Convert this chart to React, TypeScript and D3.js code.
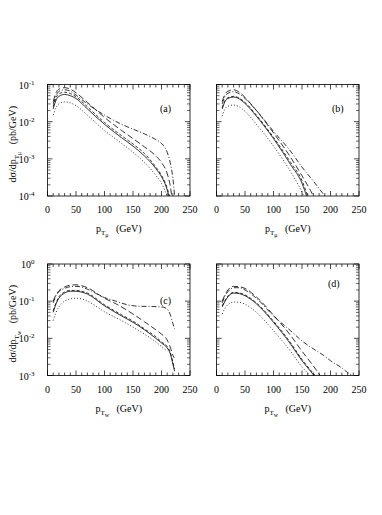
import React from "react";
import * as d3 from "d3";

type Pt = [number, number];

// ---- Data ----
const xTicks = [0, 50, 100, 150, 200, 250];

// Panel (a): p_T mu, domain 1e-4..1e-1
const aLongDash: Pt[] = [[10,0.035],[15,0.06],[20,0.075],[30,0.082],[40,0.075],[50,0.06],[70,0.033],[100,0.013],[130,0.0058],[150,0.0035],[170,0.0021],[190,0.0012],[200,0.0008],[210,0.0004],[215,0.0002],[218,0.0001]];
const aDashDot: Pt[] = [[10,0.03],[15,0.05],[20,0.065],[30,0.072],[40,0.066],[50,0.052],[70,0.03],[100,0.015],[130,0.0085],[150,0.0063],[170,0.0047],[190,0.0033],[200,0.0026],[210,0.0015],[216,0.0007],[220,0.0003],[223,0.0001]];
const aSolid: Pt[] = [[10,0.022],[15,0.038],[20,0.048],[30,0.054],[40,0.05],[50,0.042],[70,0.022],[100,0.0085],[130,0.0037],[150,0.0022],[170,0.0012],[190,0.00055],[200,0.00033],[208,0.00018],[213,0.0001]];
const aShortDash: Pt[] = [[10,0.025],[15,0.044],[20,0.056],[30,0.062],[40,0.057],[50,0.047],[70,0.025],[100,0.0095],[130,0.0042],[150,0.0025],[170,0.0014],[190,0.0006],[200,0.00036],[208,0.0002],[214,0.0001]];
const aDotted: Pt[] = [[10,0.015],[15,0.024],[20,0.03],[30,0.034],[40,0.032],[50,0.027],[70,0.015],[100,0.0058],[130,0.0026],[150,0.0015],[170,0.0008],[190,0.00036],[200,0.00022],[210,0.0001]];

// Panel (b)
const bLongDash: Pt[] = [[10,0.035],[15,0.055],[20,0.066],[30,0.072],[40,0.062],[50,0.045],[70,0.02],[100,0.005],[130,0.0011],[150,0.00035],[165,0.00014],[170,0.0001]];
const bDashDot: Pt[] = [[10,0.03],[15,0.048],[20,0.058],[30,0.064],[40,0.056],[50,0.042],[70,0.02],[100,0.0055],[130,0.0016],[150,0.0006],[170,0.00025],[190,0.0001]];
const bSolid: Pt[] = [[10,0.022],[15,0.035],[20,0.042],[30,0.046],[40,0.041],[50,0.031],[70,0.014],[100,0.0035],[130,0.0007],[150,0.00022],[158,0.0001]];
const bShortDash: Pt[] = [[10,0.024],[15,0.037],[20,0.044],[30,0.048],[40,0.043],[50,0.033],[70,0.015],[100,0.0038],[130,0.0008],[150,0.00026],[160,0.0001]];
const bDotted: Pt[] = [[10,0.014],[15,0.022],[20,0.026],[30,0.028],[40,0.025],[50,0.019],[70,0.0085],[100,0.0022],[130,0.00045],[145,0.00018],[153,0.0001]];

// Panel (c): p_T W, domain 1e-3..1
const cLongDash: Pt[] = [[10,0.1],[15,0.15],[20,0.19],[30,0.24],[40,0.27],[50,0.275],[60,0.26],[70,0.23],[100,0.12],[120,0.085],[150,0.045],[170,0.028],[190,0.017],[200,0.013],[210,0.009],[215,0.006],[220,0.0035],[222,0.003]];
const cDashDot: Pt[] = [[10,0.09],[15,0.14],[20,0.18],[30,0.22],[40,0.245],[50,0.25],[60,0.24],[70,0.21],[100,0.125],[120,0.1],[140,0.08],[160,0.073],[180,0.072],[200,0.07],[210,0.062],[215,0.045],[220,0.025],[223,0.018]];
const cSolid: Pt[] = [[10,0.05],[15,0.085],[20,0.12],[30,0.165],[40,0.185],[50,0.185],[60,0.175],[70,0.155],[100,0.075],[130,0.04],[150,0.027],[170,0.017],[190,0.01],[200,0.0075],[210,0.0055],[215,0.004],[220,0.002],[223,0.0013]];
const cShortDash: Pt[] = [[10,0.055],[15,0.09],[20,0.13],[30,0.175],[40,0.195],[50,0.195],[60,0.185],[70,0.165],[100,0.08],[130,0.043],[150,0.029],[170,0.018],[190,0.011],[200,0.008],[210,0.006],[215,0.0044],[220,0.0023],[223,0.0015]];
const cDotted: Pt[] = [[10,0.03],[15,0.05],[20,0.07],[30,0.1],[40,0.115],[50,0.12],[60,0.115],[70,0.1],[100,0.052],[130,0.03],[150,0.02],[170,0.013],[190,0.008],[200,0.006],[210,0.0045]];

// Panel (d)
const dLongDash: Pt[] = [[10,0.1],[15,0.15],[20,0.2],[30,0.25],[40,0.245],[50,0.22],[70,0.13],[100,0.042],[130,0.012],[150,0.0045],[170,0.0018],[182,0.001]];
const dDashDot: Pt[] = [[10,0.09],[15,0.14],[20,0.18],[30,0.23],[40,0.23],[50,0.2],[70,0.12],[100,0.04],[130,0.016],[150,0.0085],[170,0.0052],[190,0.0033],[200,0.0025],[210,0.002],[220,0.0016],[230,0.0012],[238,0.001]];
const dSolid: Pt[] = [[10,0.07],[15,0.1],[20,0.13],[30,0.165],[40,0.16],[50,0.14],[70,0.085],[100,0.027],[130,0.007],[150,0.0025],[165,0.0013],[171,0.001]];
const dShortDash: Pt[] = [[10,0.075],[15,0.105],[20,0.137],[30,0.172],[40,0.167],[50,0.147],[70,0.09],[100,0.029],[130,0.0076],[150,0.0027],[165,0.0014],[173,0.001]];
const dDotted: Pt[] = [[10,0.045],[15,0.065],[20,0.08],[30,0.095],[40,0.093],[50,0.083],[70,0.05],[100,0.016],[130,0.0045],[150,0.0017],[164,0.001]];

const panelLabels = ["(a)", "(b)", "(c)", "(d)"];

const styles = [
  { dash: "6,3" },      // long dash
  { dash: "5,2,1,2" },  // dash-dot
  { dash: "" },         // solid
  { dash: "3,2" },      // short dash
  { dash: "1,2" },      // dotted
];

const panels = [
  { left: 47.5, top: 84.5, yMin: 1e-4, yMax: 1e-1, series: [aLongDash, aDashDot, aSolid, aShortDash, aDotted], label: panelLabels[0], lx: 160, ly: 112, sub: "μ", showY: true },
  { left: 216.5, top: 84.5, yMin: 1e-4, yMax: 1e-1, series: [bLongDash, bDashDot, bSolid, bShortDash, bDotted], label: panelLabels[1], lx: 332, ly: 112, sub: "μ", showY: false },
  { left: 47.5, top: 264, yMin: 1e-3, yMax: 1, series: [cLongDash, cDashDot, cSolid, cShortDash, cDotted], label: panelLabels[2], lx: 160, ly: 304, sub: "w", showY: true },
  { left: 216.5, top: 264, yMin: 1e-3, yMax: 1, series: [dLongDash, dDashDot, dSolid, dShortDash, dDotted], label: panelLabels[3], lx: 328, ly: 287, sub: "w", showY: false },
];

const W = 142.5;
const H = 111.5;
const FONT = "'Liberation Serif', 'DejaVu Serif', serif";

function Panel({ p, idx }: { p: typeof panels[number]; idx: number }) {
  const x = d3.scaleLinear().domain([0, 250]).range([p.left, p.left + W]);
  const y = d3.scaleLog().domain([p.yMin, p.yMax]).range([p.top + H, p.top]);
  const line = d3
    .line<Pt>()
    .x((d) => x(d[0]))
    .y((d) => y(d[1]))
    .curve(d3.curveMonotoneX);

  const minorX = d3.range(0, 251, 10);
  const decades: number[] = [];
  const e0 = Math.round(Math.log10(p.yMin));
  const e1 = Math.round(Math.log10(p.yMax));
  for (let e = e0; e <= e1; e++) decades.push(e);
  const minorY: number[] = [];
  for (let e = e0; e < e1; e++) for (let m = 2; m <= 9; m++) minorY.push(m * Math.pow(10, e));

  const bottom = p.top + H;
  const right = p.left + W;
  const clipId = `clip${idx}`;
  const cx = p.left + W / 2;

  return (
    <g>
      <defs>
        <clipPath id={clipId}>
          <rect x={p.left} y={p.top} width={W} height={H} />
        </clipPath>
      </defs>
      {/* curves */}
      <g clipPath={`url(#${clipId})`}>
        {p.series.map((s, i) => (
          <path key={i} d={line(s) || ""} fill="none" stroke="#000" strokeWidth={0.8} strokeDasharray={styles[i].dash} />
        ))}
      </g>
      {/* frame */}
      <rect x={p.left} y={p.top} width={W} height={H} fill="none" stroke="#000" strokeWidth={0.8} />
      {/* x ticks */}
      {minorX.map((v) => {
        const major = v % 50 === 0;
        const len = major ? 5 : 3;
        return (
          <g key={"x" + v}>
            <line x1={x(v)} x2={x(v)} y1={bottom} y2={bottom - len} stroke="#000" strokeWidth={0.7} />
            <line x1={x(v)} x2={x(v)} y1={p.top} y2={p.top + len} stroke="#000" strokeWidth={0.7} />
          </g>
        );
      })}
      {/* y ticks */}
      {decades.map((e) => (
        <g key={"yd" + e}>
          <line x1={p.left} x2={p.left + 5} y1={y(Math.pow(10, e))} y2={y(Math.pow(10, e))} stroke="#000" strokeWidth={0.7} />
          <line x1={right} x2={right - 5} y1={y(Math.pow(10, e))} y2={y(Math.pow(10, e))} stroke="#000" strokeWidth={0.7} />
        </g>
      ))}
      {minorY.map((v, i) => (
        <g key={"ym" + i}>
          <line x1={p.left} x2={p.left + 3} y1={y(v)} y2={y(v)} stroke="#000" strokeWidth={0.6} />
          <line x1={right} x2={right - 3} y1={y(v)} y2={y(v)} stroke="#000" strokeWidth={0.6} />
        </g>
      ))}
      {/* x tick labels */}
      {xTicks.map((v) => (
        <text key={"xl" + v} x={x(v)} y={bottom + 17} textAnchor="middle" fontFamily={FONT} fontSize={10}>
          {v}
        </text>
      ))}
      {/* y tick labels */}
      {p.showY &&
        decades.map((e) => (
          <text key={"yl" + e} x={p.left - 13} y={y(Math.pow(10, e)) + 4} textAnchor="end" fontFamily={FONT} fontSize={10}>
            10
            <tspan fontSize={7} dy={-4}>{e}</tspan>
          </text>
        ))}
      {/* x title */}
      <text x={cx} y={bottom + 36} textAnchor="middle" fontFamily={FONT} fontSize={10}>
        p
        <tspan fontSize={7} dy={3}>T</tspan>
        <tspan fontSize={6} dy={2}>{p.sub}</tspan>
        <tspan dy={-5} fontSize={10}>{"\u00a0\u00a0\u00a0(GeV)"}</tspan>
      </text>
      {/* y title */}
      {p.showY && (
        <text transform={`translate(16,${p.top + H / 2 + 4}) rotate(-90)`} textAnchor="middle" fontFamily={FONT} fontSize={10}>
          dσ/dp
          <tspan fontSize={7} dy={3}>T</tspan>
          <tspan fontSize={6} dy={2}>{p.sub}</tspan>
          <tspan dy={-5} fontSize={10}>{"\u00a0\u00a0\u00a0(pb/GeV)"}</tspan>
        </text>
      )}
      {/* panel label */}
      <text x={p.lx} y={p.ly} fontFamily={FONT} fontSize={10}>
        {p.label}
      </text>
    </g>
  );
}

export default function App() {
  return (
    <svg width={382} height={515} style={{ position: "absolute", left: 0, top: 0, background: "#fff" }}>
      <rect width={382} height={515} fill="#fff" />
      {panels.map((p, i) => (
        <Panel key={i} p={p} idx={i} />
      ))}
    </svg>
  );
}
